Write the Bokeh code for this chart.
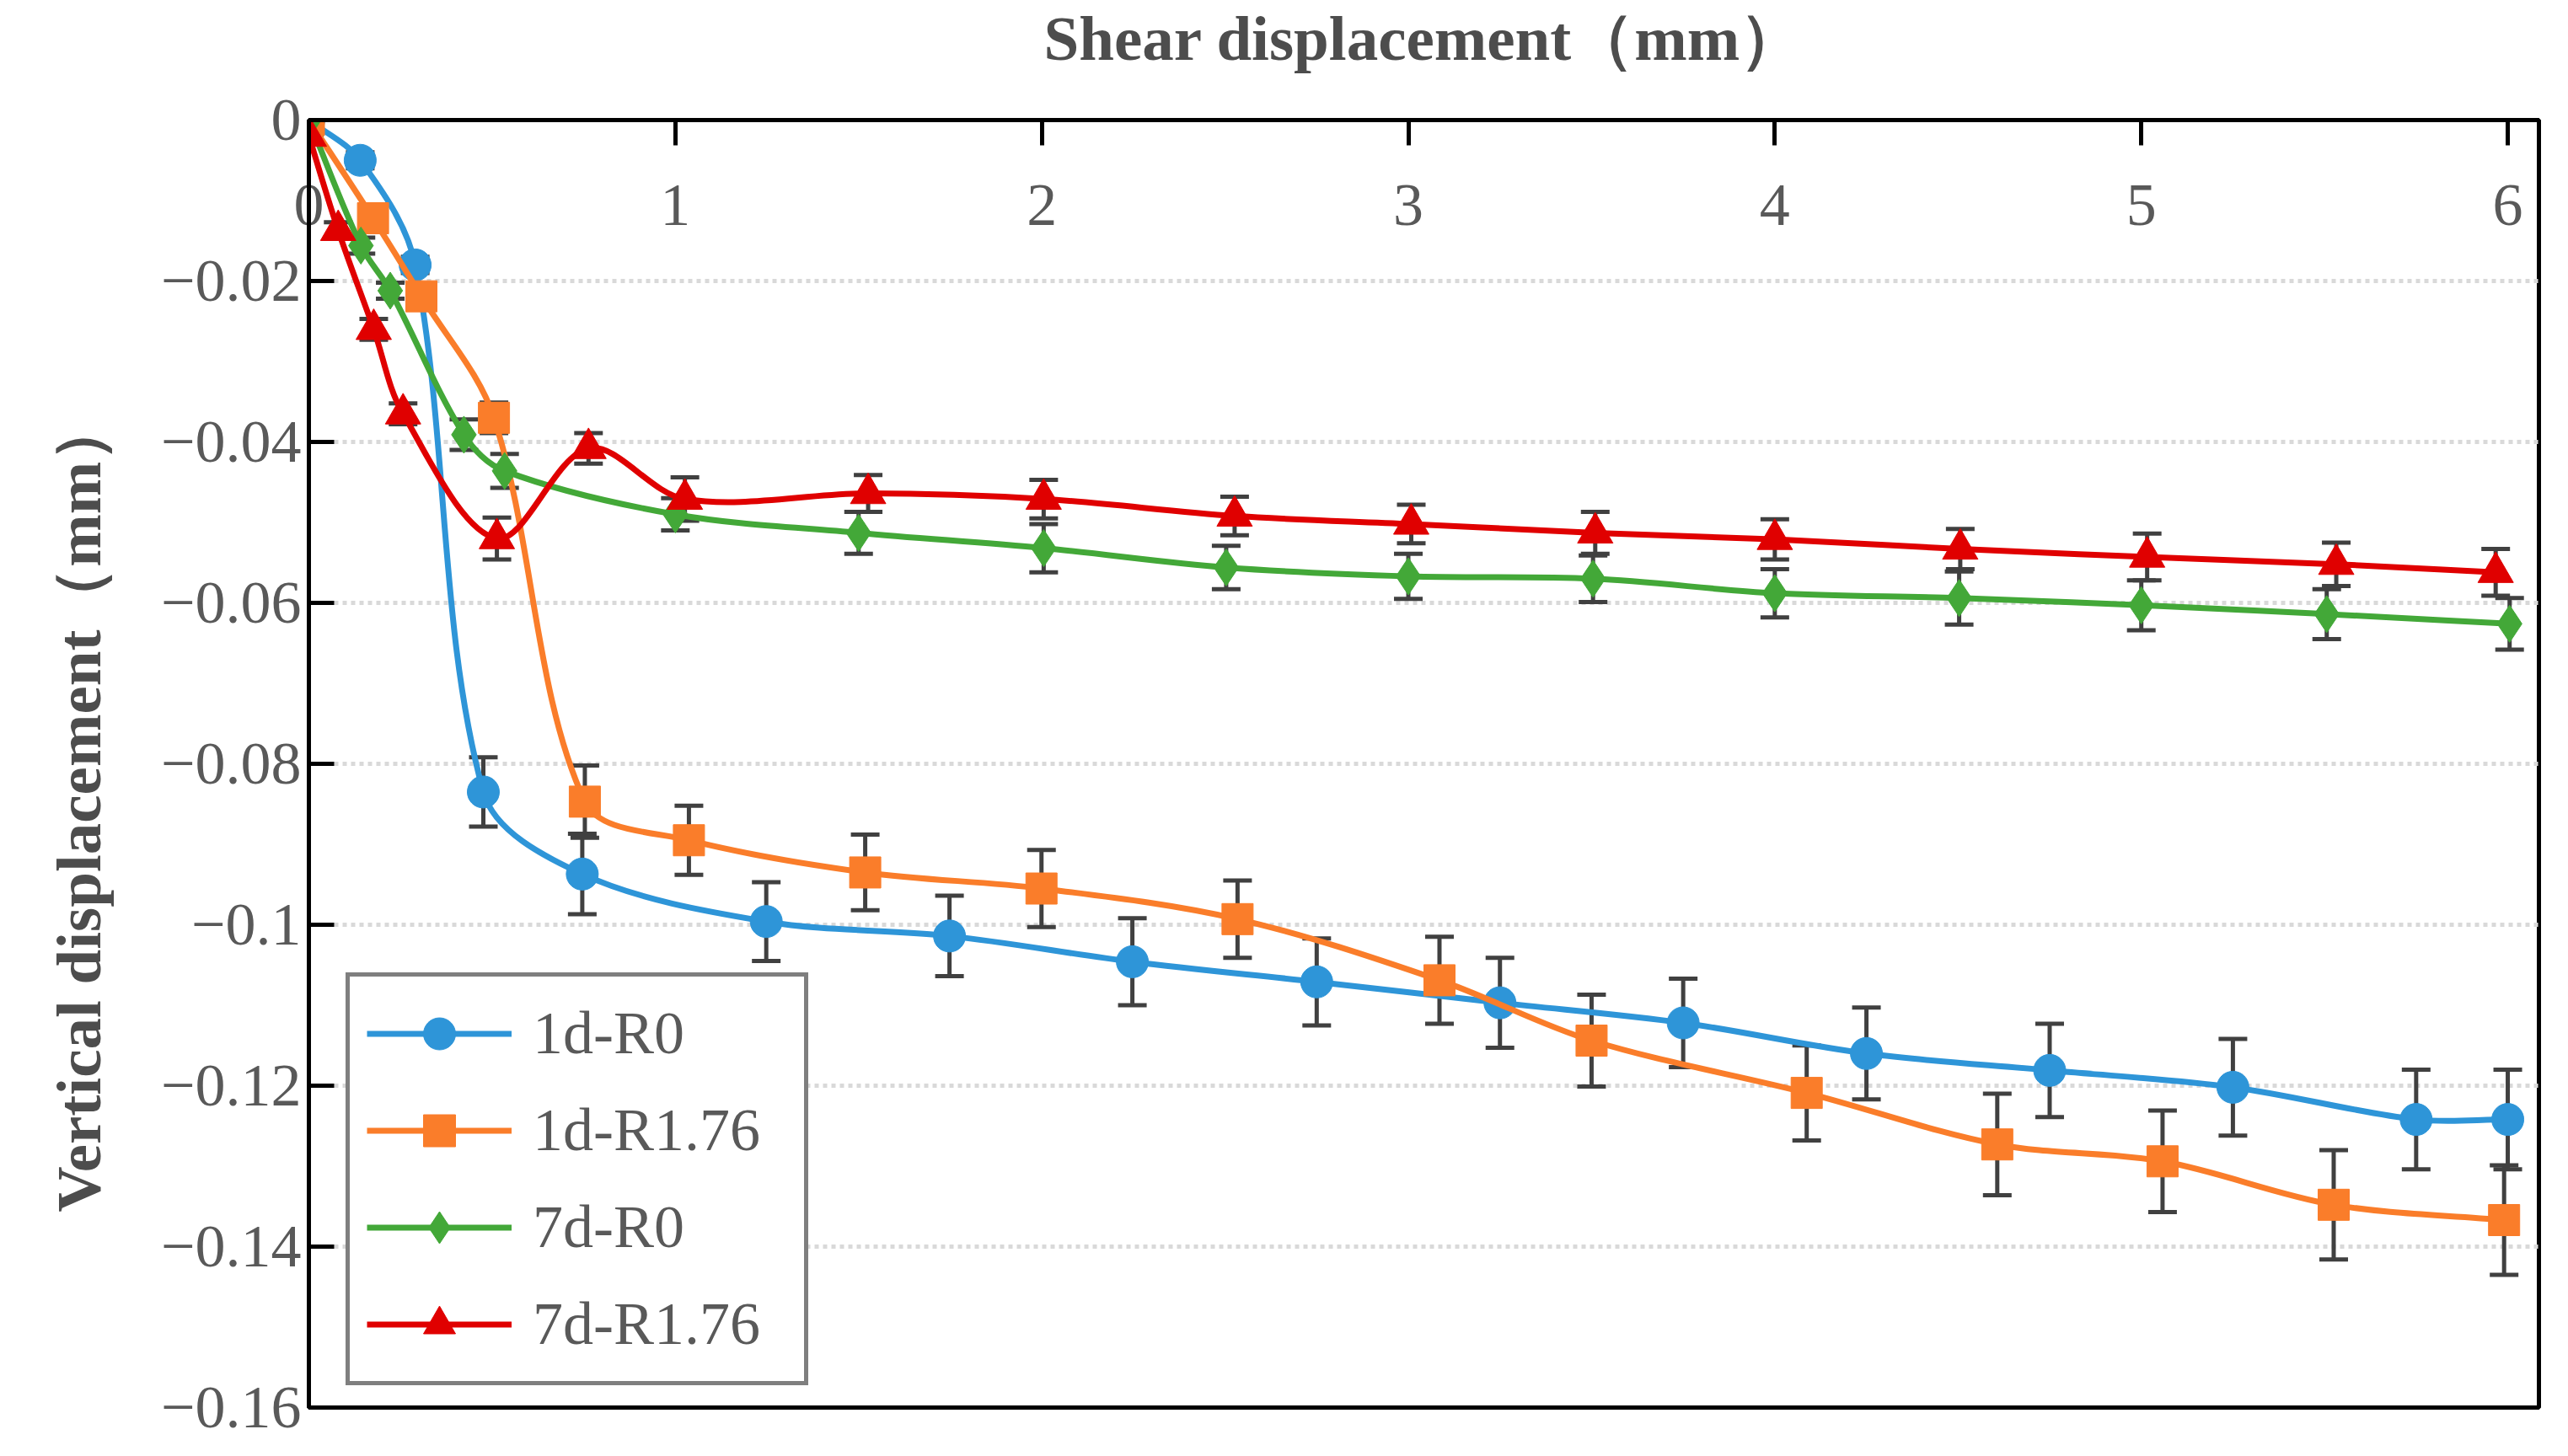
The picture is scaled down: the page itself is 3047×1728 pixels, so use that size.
import math
from bokeh.plotting import figure
from bokeh.models import (ColumnDataSource, Whisker, TeeHead, FixedTicker, Range1d,
                          Legend, LegendItem, Title)
from bokeh.embed import file_html
from bokeh.resources import INLINE

# ---- data ----
x_ticks = [0, 1, 2, 3, 4, 5, 6]
y_ticks = [0, -0.02, -0.04, -0.06, -0.08, -0.1, -0.12, -0.14, -0.16]
y_tick_labels = ["0", "−0.02", "−0.04", "−0.06", "−0.08", "−0.1", "−0.12", "−0.14", "−0.16"]

x_1d_r0 = [0, 0.14, 0.29, 0.476, 0.746, 1.248, 1.748, 2.247, 2.75, 3.25, 3.75, 4.25, 4.75, 5.25, 5.75, 6.0]
y_1d_r0 = [0, -0.005, -0.018, -0.0835, -0.0937, -0.0996, -0.1014, -0.1046, -0.1071, -0.1097, -0.1122,
           -0.116, -0.1181, -0.1202, -0.1242, -0.1242]
e_1d_r0 = [0, 0.001, 0.001, 0.0043, 0.005, 0.0049, 0.005, 0.0054, 0.0054, 0.0056, 0.0055, 0.0057,
           0.0058, 0.006, 0.0062, 0.0062]

x_1d_r176 = [0, 0.175, 0.307, 0.505, 0.753, 1.037, 1.518, 1.999, 2.534, 3.085, 3.5, 4.087, 4.607, 5.058, 5.525, 5.99]
y_1d_r176 = [0, -0.0122, -0.0219, -0.037, -0.0847, -0.0895, -0.0935, -0.0955, -0.0993, -0.1069, -0.1144,
             -0.1209, -0.1273, -0.1294, -0.1348, -0.1367]
e_1d_r176 = [0, 0.001, 0.001, 0.0019, 0.0045, 0.0043, 0.0047, 0.0048, 0.0048, 0.0054, 0.0057, 0.0059,
             0.0063, 0.0063, 0.0068, 0.0068]

x_7d_r0 = [0, 0.142, 0.222, 0.423, 0.534, 1.0, 1.5, 2.005, 2.503, 3.0, 3.504, 4.0, 4.503, 5.0, 5.506, 6.005]
y_7d_r0 = [0, -0.0156, -0.0212, -0.0391, -0.0436, -0.049, -0.0513, -0.0532, -0.0556, -0.0567, -0.057,
           -0.0588, -0.0594, -0.0603, -0.0614, -0.0626]
e_7d_r0 = [0, 0.001, 0.001, 0.0019, 0.0021, 0.002, 0.0026, 0.003, 0.0027, 0.0028, 0.0029, 0.003,
           0.0033, 0.0031, 0.0031, 0.0032]

x_7d_r176 = [0, 0.08, 0.177, 0.257, 0.513, 0.763, 1.026, 1.526, 2.005, 2.526, 3.008, 3.51, 4.0, 4.506,
             5.016, 5.532, 5.967]
y_7d_r176 = [-0.002, -0.0137, -0.026, -0.0365, -0.052, -0.0408, -0.0471, -0.0464, -0.0471, -0.0492,
             -0.0502, -0.0513, -0.0521, -0.0533, -0.0543, -0.0552, -0.0562]
e_7d_r176 = [0, 0.001, 0.0013, 0.0013, 0.0026, 0.0019, 0.0027, 0.0023, 0.0024, 0.0024, 0.0024, 0.0026,
             0.0025, 0.0025, 0.0029, 0.0027, 0.0029]

series = [
    ("1d-R0", x_1d_r0, y_1d_r0, e_1d_r0, "#2E95D8", "circle", 38),
    ("1d-R1.76", x_1d_r176, y_1d_r176, e_1d_r176, "#FA7D2A", "square", 37),
    ("7d-R0", x_7d_r0, y_7d_r0, e_7d_r0, "#43A838", "diamond", 44),
    ("7d-R1.76", x_7d_r176, y_7d_r176, e_7d_r176, "#E00000", "triangle", 42),
]

W, H = 3030, 1710
LEFT, RIGHT, TOP, BOTTOM = 362, 18, 138, 40
X_END = 6.085
px_x = (W - LEFT - RIGHT) / X_END      # screen pixels per mm, used for smoothing only
px_y = (H - TOP - BOTTOM) / 0.16


def smooth_segments(xs, ys):
    # cubic bezier pieces through the points, handles scaled by chord length
    n = len(xs)
    dist = [math.hypot((xs[i + 1] - xs[i]) * px_x, (ys[i + 1] - ys[i]) * px_y) for i in range(n - 1)]

    def tangent(i):
        a, b = max(i - 1, 0), min(i + 1, n - 1)
        return xs[b] - xs[a], ys[b] - ys[a]

    d = dict(x0=[], y0=[], x1=[], y1=[], cx0=[], cy0=[], cx1=[], cy1=[])
    for i in range(n - 1):
        tx, ty = tangent(i)
        before = dist[i - 1] if i > 0 else 0
        f0 = dist[i] / (before + dist[i]) / 3
        ux, uy = tangent(i + 1)
        after = dist[i + 1] if i + 1 < n - 1 else 0
        f1 = dist[i] / (dist[i] + after) / 3
        d["x0"].append(xs[i]); d["y0"].append(ys[i])
        d["x1"].append(xs[i + 1]); d["y1"].append(ys[i + 1])
        d["cx0"].append(xs[i] + tx * f0); d["cy0"].append(ys[i] + ty * f0)
        d["cx1"].append(xs[i + 1] - ux * f1); d["cy1"].append(ys[i + 1] - uy * f1)
    return d


p = figure(width=W, height=H, output_backend="svg", toolbar_location=None,
           x_range=Range1d(0, X_END), y_range=Range1d(-0.16, 0), x_axis_location="above",
           min_border_left=LEFT, min_border_right=RIGHT, min_border_top=TOP, min_border_bottom=BOTTOM)
p.background_fill_color = "white"
p.border_fill_color = "white"
p.outline_line_color = "black"
p.outline_line_width = 5

p.xgrid.visible = False
p.ygrid.ticker = FixedTicker(ticks=y_ticks)
p.ygrid.grid_line_color = "#D9D9D9"
p.ygrid.grid_line_width = 5
p.ygrid.grid_line_dash = "5 5"

xa = p.xaxis[0]
xa.ticker = FixedTicker(ticks=x_ticks)
xa.axis_line_color = "black"
xa.axis_line_width = 5
xa.major_tick_in = 30
xa.major_tick_out = 0
xa.major_tick_line_width = 5
xa.minor_tick_line_color = None
xa.major_label_standoff = -124
xa.major_label_text_font = "Liberation Serif"
xa.major_label_text_font_size = "72px"
xa.major_label_text_color = "#595959"
xa.axis_label = "Shear displacement（mm）"
xa.axis_label_standoff = 130
xa.axis_label_text_font = "Liberation Serif"
xa.axis_label_text_font_style = "bold"
xa.axis_label_text_font_size = "75px"
xa.axis_label_text_color = "#4D4D4D"

ya = p.yaxis[0]
ya.ticker = FixedTicker(ticks=y_ticks)
ya.major_label_overrides = dict(zip(y_ticks, y_tick_labels))
ya.axis_line_color = "black"
ya.axis_line_width = 5
ya.major_tick_in = 30
ya.major_tick_out = 0
ya.major_tick_line_width = 5
ya.minor_tick_line_color = None
ya.major_label_standoff = 9
ya.major_label_text_font = "Liberation Serif"
ya.major_label_text_font_size = "72px"
ya.major_label_text_color = "#595959"

# y title sits a little below the middle of the frame, as in the original
p.add_layout(Title(text="Vertical displacement（mm）", align="left", offset=232, standoff=102,
                   vertical_align="top", text_font="Liberation Serif", text_font_style="bold",
                   text_font_size="75px", text_color="#4D4D4D"), "left")

items = []
for name, xs, ys, es, color, marker, size in series:
    src = ColumnDataSource(dict(x=xs, y=ys, up=[a + b for a, b in zip(ys, es)],
                                lo=[a - b for a, b in zip(ys, es)]))
    p.add_layout(Whisker(source=src, base="x", upper="up", lower="lo", dimension="height",
                         line_color="#404040", line_width=5,
                         upper_head=TeeHead(size=34, line_color="#404040", line_width=5),
                         lower_head=TeeHead(size=34, line_color="#404040", line_width=5)))
    curve = p.bezier(source=ColumnDataSource(smooth_segments(xs, ys)), x0="x0", y0="y0", x1="x1",
                     y1="y1", cx0="cx0", cy0="cy0", cx1="cx1", cy1="cy1",
                     line_color=color, line_width=7)
    dots = p.scatter(source=src, x="x", y="y", marker=marker, size=size,
                     fill_color=color, line_color=color, line_width=1)
    items.append(LegendItem(label=name, renderers=[curve, dots]))

legend = Legend(items=items, location=(44, 26), padding=20, spacing=20, glyph_width=172,
                glyph_height=95, label_standoff=25, label_width=302,
                label_text_font="Liberation Serif", label_text_font_size="72px",
                label_text_color="#595959", border_line_color="black", border_line_width=5,
                background_fill_color="white", background_fill_alpha=1)
p.add_layout(legend)

open("out.html", "w").write(file_html(p, INLINE))
